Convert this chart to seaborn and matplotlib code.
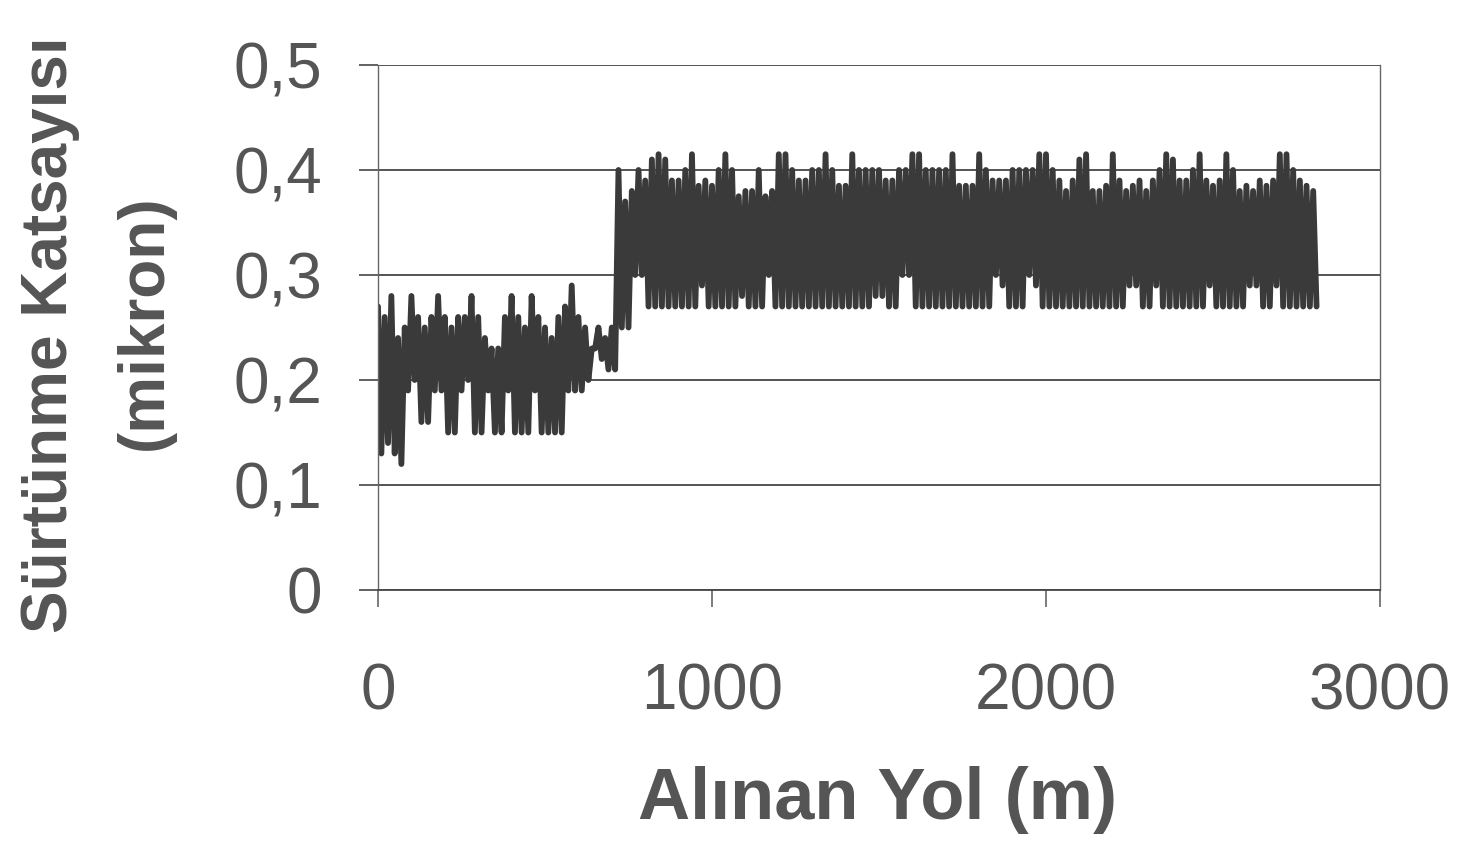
import numpy as np
import pandas as pd
import matplotlib
matplotlib.use("Agg")
import matplotlib.pyplot as plt
import seaborn as sns

# ---- data (20 m bins: peak then trough) ----
bin_width = 20
hi_vals = [
    0.27, 0.26, 0.28, 0.24, 0.25, 0.28, 0.26, 0.25, 0.26, 0.28,   # 0-180
    0.26, 0.25, 0.26, 0.26, 0.28, 0.26, 0.24, 0.23, 0.23, 0.26,   # 200-380
    0.28, 0.26, 0.25, 0.28, 0.26, 0.25, 0.24, 0.26, 0.27, 0.29,   # 400-580
    0.26, 0.25, 0.23, 0.25, 0.24, 0.25, 0.40, 0.37, 0.38, 0.40,   # 600-780
    0.39, 0.41, 0.415, 0.41, 0.39, 0.39, 0.40, 0.415, 0.385, 0.39,  # 800-980
    0.385, 0.40, 0.415, 0.40, 0.375, 0.38, 0.38, 0.40, 0.375, 0.38,  # 1000-1180
    0.415, 0.415, 0.40, 0.39, 0.39, 0.40, 0.40, 0.415, 0.40, 0.385,  # 1200-1380
    0.385, 0.415, 0.40, 0.40, 0.40, 0.40, 0.39, 0.39, 0.40, 0.40,   # 1400-1580
    0.415, 0.415, 0.40, 0.40, 0.40, 0.40, 0.415, 0.385, 0.385, 0.385,  # 1600-1780
    0.415, 0.40, 0.39, 0.39, 0.39, 0.40, 0.40, 0.40, 0.40, 0.415,   # 1800-1980
    0.415, 0.40, 0.39, 0.38, 0.39, 0.41, 0.415, 0.38, 0.38, 0.385,  # 2000-2180
    0.415, 0.39, 0.38, 0.385, 0.39, 0.38, 0.39, 0.40, 0.415, 0.41,  # 2200-2380
    0.39, 0.39, 0.40, 0.415, 0.39, 0.385, 0.39, 0.415, 0.40, 0.38,  # 2400-2580
    0.385, 0.38, 0.39, 0.385, 0.39, 0.415, 0.415, 0.40, 0.39, 0.385,  # 2600-2780
    0.38,                                                          # 2800
]
lo_vals = [
    0.13, 0.14, 0.13, 0.12, 0.19, 0.20, 0.16, 0.16, 0.19, 0.19,
    0.15, 0.15, 0.19, 0.20, 0.15, 0.15, 0.19, 0.15, 0.15, 0.19,
    0.15, 0.15, 0.15, 0.19, 0.15, 0.15, 0.15, 0.15, 0.19, 0.19,
    0.19, 0.20, 0.23, 0.22, 0.21, 0.21, 0.25, 0.25, 0.30, 0.30,
    0.27, 0.27, 0.27, 0.27, 0.27, 0.27, 0.27, 0.27, 0.29, 0.27,
    0.27, 0.27, 0.27, 0.27, 0.28, 0.27, 0.27, 0.27, 0.30, 0.27,
    0.27, 0.27, 0.27, 0.27, 0.27, 0.27, 0.27, 0.27, 0.27, 0.27,
    0.27, 0.27, 0.27, 0.27, 0.28, 0.28, 0.27, 0.27, 0.30, 0.30,
    0.27, 0.27, 0.27, 0.27, 0.27, 0.27, 0.27, 0.27, 0.27, 0.27,
    0.27, 0.27, 0.30, 0.29, 0.27, 0.27, 0.27, 0.30, 0.29, 0.27,
    0.27, 0.27, 0.27, 0.27, 0.27, 0.27, 0.27, 0.27, 0.27, 0.27,
    0.27, 0.27, 0.29, 0.29, 0.27, 0.27, 0.29, 0.27, 0.27, 0.27,
    0.27, 0.27, 0.27, 0.27, 0.29, 0.27, 0.27, 0.27, 0.27, 0.27,
    0.29, 0.29, 0.27, 0.27, 0.29, 0.27, 0.27, 0.27, 0.27, 0.27,
    0.27,
]
x_ticks = [0, 1000, 2000, 3000]
y_ticks = [0, 0.1, 0.2, 0.3, 0.4, 0.5]
y_tick_labels = ["0", "0,1", "0,2", "0,3", "0,4", "0,5"]
x_label = "Alınan Yol (m)"
y_label_1 = "Sürtünme Katsayısı"
y_label_2 = "(mikron)"

# interleave peaks and troughs along distance
n = len(hi_vals)
dist = np.ravel(np.column_stack([np.arange(n) * bin_width,
                                 np.arange(n) * bin_width + bin_width / 2]))
mu = np.ravel(np.column_stack([hi_vals, lo_vals]))
df = pd.DataFrame({"yol": dist, "mu": mu})

sns.set_theme(style="white")
plt.rcParams["font.family"] = ["Liberation Sans", "DejaVu Sans"]

text_col = "#555555"
grid_col = "#474747"

fig = plt.figure(figsize=(14.61, 8.56), dpi=100)
ax = fig.add_axes([378 / 1461, 1 - 590 / 856, (1380 - 378) / 1461, (590 - 65) / 856])

sns.lineplot(data=df, x="yol", y="mu", ax=ax, color="#3a3a3a",
             linewidth=4.2, estimator=None, sort=False)

ax.set_xlim(0, 3000)
ax.set_ylim(0, 0.5)
ax.set_xticks(x_ticks)
ax.set_xticklabels([str(t) for t in x_ticks])
ax.set_yticks(y_ticks)
ax.set_yticklabels(y_tick_labels)
ax.yaxis.grid(True, color=grid_col, linewidth=1.3)
ax.xaxis.grid(False)
ax.set_axisbelow(True)

for side in ["left", "right"]:
    ax.spines[side].set_visible(True)
    ax.spines[side].set_color("#666666")
    ax.spines[side].set_linewidth(1.0)
ax.spines["top"].set_visible(False)
ax.spines["bottom"].set_color(grid_col)
ax.spines["bottom"].set_linewidth(1.3)

ax.tick_params(axis="y", direction="out", length=14, width=1.2, color=grid_col,
               pad=26, labelsize=46, labelcolor=text_col, left=True)
ax.tick_params(axis="x", direction="out", length=12, width=1.2, color="#666666",
               pad=40, labelsize=46, labelcolor=text_col, bottom=True)
ax.set_xlabel("")
ax.set_ylabel("")

fig.text(878 / 1461, 1 - 800 / 856, x_label, ha="center", va="center",
         fontsize=52, fontweight="bold", color=text_col)
fig.text(50 / 1461, 1 - 335 / 856, y_label_1, ha="center", va="center",
         rotation=90, fontsize=46, fontweight="bold", color=text_col)
fig.text(145 / 1461, 1 - 322 / 856, y_label_2, ha="center", va="center",
         rotation=90, fontsize=46, fontweight="bold", color=text_col)

fig.savefig("out.png", dpi=100, facecolor="white")
